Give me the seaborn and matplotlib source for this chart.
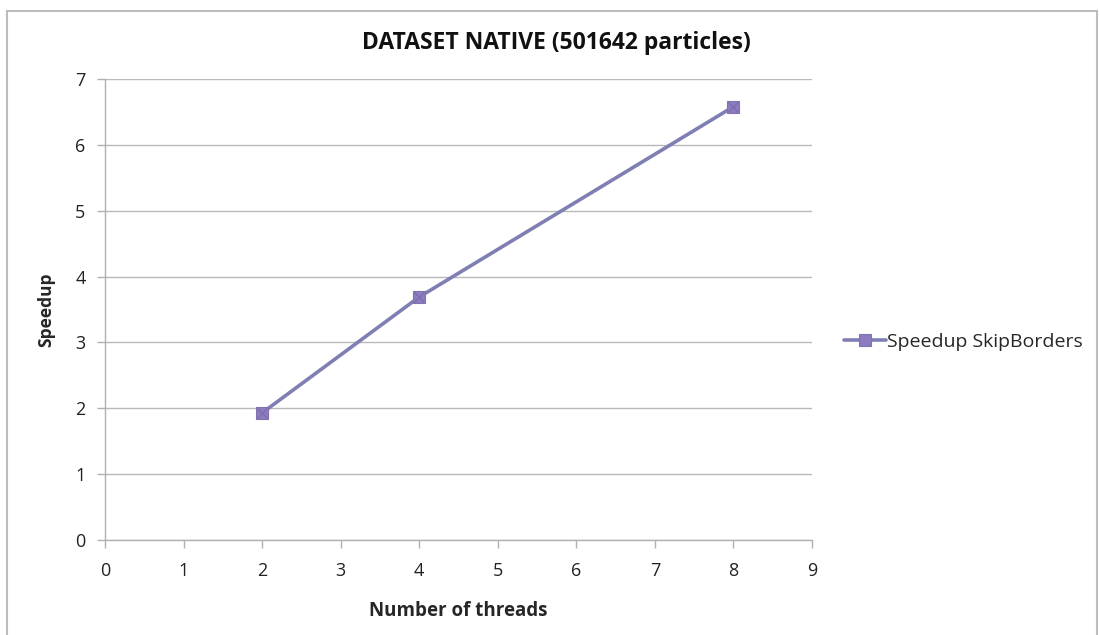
import matplotlib
matplotlib.use("Agg")
import matplotlib.pyplot as plt
import seaborn as sns
import pandas as pd
from matplotlib.patches import Rectangle

threads = [2, 4, 8]
speedup = [1.93, 3.69, 6.58]
series_name = "Speedup SkipBorders"
title = "DATASET NATIVE (501642 particles)"
xlabel = "Number of threads"
ylabel = "Speedup"
xticks = list(range(0, 10))
yticks = list(range(0, 8))

sns.set_theme(style="white")
plt.rcParams['font.family'] = ['Open Sans', 'DejaVu Sans']

df = pd.DataFrame({"threads": threads, "speedup": speedup, "series": series_name})

fig = plt.figure(figsize=(10.99, 6.35), dpi=100)
ax = fig.add_axes([105/1099, 95/635, 707/1099, 461/635])

line_color = "#7F7FB3"
marker_color = "#8E7CC0"
sns.lineplot(data=df, x="threads", y="speedup", hue="series", palette=[line_color],
             marker="s", markersize=9, markerfacecolor=marker_color,
             markeredgecolor="#8272B0", markeredgewidth=0.8, linewidth=2.6, ax=ax)
# x inside the markers
ax.plot(threads, speedup, linestyle="none", marker="x", markersize=7,
        color="#7A6AAA", markeredgewidth=0.8, zorder=5)

ax.set_xlim(0, 9)
ax.set_ylim(0, 7)
ax.set_xticks(xticks)
ax.set_yticks(yticks)
ax.set_xticklabels([str(t) for t in xticks], fontsize=13, color="#222222")
ax.set_yticklabels([str(t) for t in yticks], fontsize=13, color="#222222")
ax.yaxis.grid(True, color="#B8B8B8", linewidth=1)
ax.xaxis.grid(False)
for s in ["top", "right"]:
    ax.spines[s].set_visible(False)
ax.spines["left"].set_color("#B0B0B0")
ax.spines["bottom"].set_color("#B0B0B0")
ax.spines["left"].set_linewidth(1)
ax.spines["bottom"].set_linewidth(1)
ax.tick_params(axis="x", direction="out", length=6, color="#B0B0B0", width=1, pad=10, bottom=True)
ax.tick_params(axis="y", direction="out", length=6, color="#B0B0B0", width=1, pad=8, left=True)

ax.set_xlabel(xlabel, fontsize=13.5, fontweight="bold", labelpad=15)
ax.set_ylabel(ylabel, fontsize=12.5, fontweight="bold", labelpad=14)
fig.text(556/1099, 1 - 43/635, title, fontsize=16.5, fontweight="bold",
         ha="center", va="center", color="#111111")

leg = ax.legend(loc="center left", bbox_to_anchor=(1.02, 0.43), frameon=False,
                fontsize=14, handlelength=2.2, handletextpad=0.05)

fig.patches.append(Rectangle((6.5/1099, -0.05), (1097-6.5)/1099, 1.05 - 10.5/635,
                             transform=fig.transFigure, fill=False,
                             edgecolor="#BDBDBD", linewidth=1.5))

fig.savefig("out.png", dpi=100)
